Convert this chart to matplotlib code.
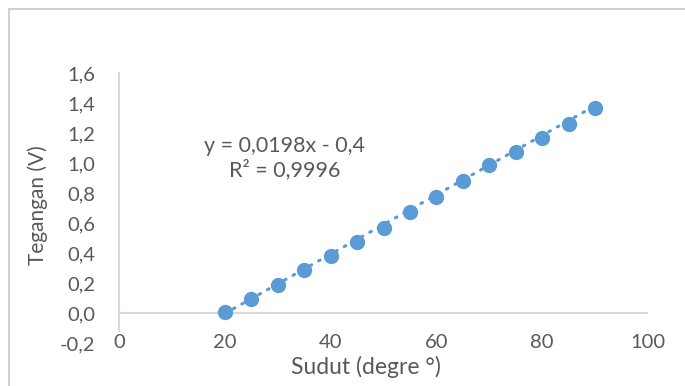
import numpy as np
import matplotlib.pyplot as plt
from matplotlib.patches import Rectangle

plt.rcParams['font.family'] = ['Lato', 'DejaVu Sans']

# data
sudut = [20, 25, 30, 35, 40, 45, 50, 55, 60, 65, 70, 75, 80, 85, 90]
tegangan = [0.01, 0.093, 0.19, 0.285, 0.38, 0.475, 0.57, 0.675, 0.775,
            0.88, 0.987, 1.075, 1.165, 1.26, 1.365]
x_ticks = [0, 20, 40, 60, 80, 100]
y_ticks = [-0.2, 0.0, 0.2, 0.4, 0.6, 0.8, 1.0, 1.2, 1.4, 1.6]
slope, intercept = 0.0198, -0.4

text_col = '#595959'
axis_col = '#d9d9d9'
blue = '#5b9bd5'

fig = plt.figure(figsize=(6.85, 3.86), dpi=100)
fig.patches.append(Rectangle((9 / 685, -0.1), 1.2, (386 - 9) / 386 + 0.1,
                             transform=fig.transFigure, fill=False,
                             edgecolor='#d0d0d0', linewidth=1.5))
ax = fig.add_axes([119 / 685, 1 - 343 / 386, (648 - 119) / 685, (343 - 73) / 386])

# trendline
xt = np.array([sudut[0], sudut[-1]])
ax.plot(xt, slope * xt + intercept, color=blue, linewidth=2.2,
        linestyle=(0, (0.6, 2.6)), dash_capstyle='round', zorder=2)
ax.plot(sudut, tegangan, 'o', color=blue, markersize=10, zorder=3)

ax.set_xlim(0, 100)
ax.set_ylim(-0.2, 1.6)
ax.set_xticks(x_ticks)
ax.set_yticks(y_ticks)
ax.set_yticklabels([f'{v:.1f}'.replace('.', ',') for v in y_ticks])
ax.tick_params(length=0, labelsize=14.5, colors=text_col)
ax.tick_params(axis='y', pad=17)
ax.tick_params(axis='x', pad=0)
for lbl in ax.get_xticklabels():
    lbl.set_va('center')

for s in ['top', 'right', 'bottom']:
    ax.spines[s].set_visible(False)
ax.spines['left'].set_color(axis_col)
ax.spines['left'].set_linewidth(1.5)
ax.spines['left'].set_bounds(-0.12, 1.6)
ax.axhline(0, color=axis_col, linewidth=1.5, zorder=1)

fig.text(285 / 685, 1 - 158 / 386, 'y = 0,0198x - 0,4\nR² = 0,9996', ha='center',
         va='center', fontsize=15.5, color=text_col, linespacing=1.15)

fig.text(366 / 685, 1 - 367 / 386, 'Sudut (degre °)', ha='center',
         va='center', fontsize=16.5, color=text_col)
fig.text(38 / 685, 1 - 205 / 386, 'Tegangan (V)', ha='center', va='center',
         rotation=90, fontsize=15, color=text_col)

fig.savefig('out.png', dpi=100)
